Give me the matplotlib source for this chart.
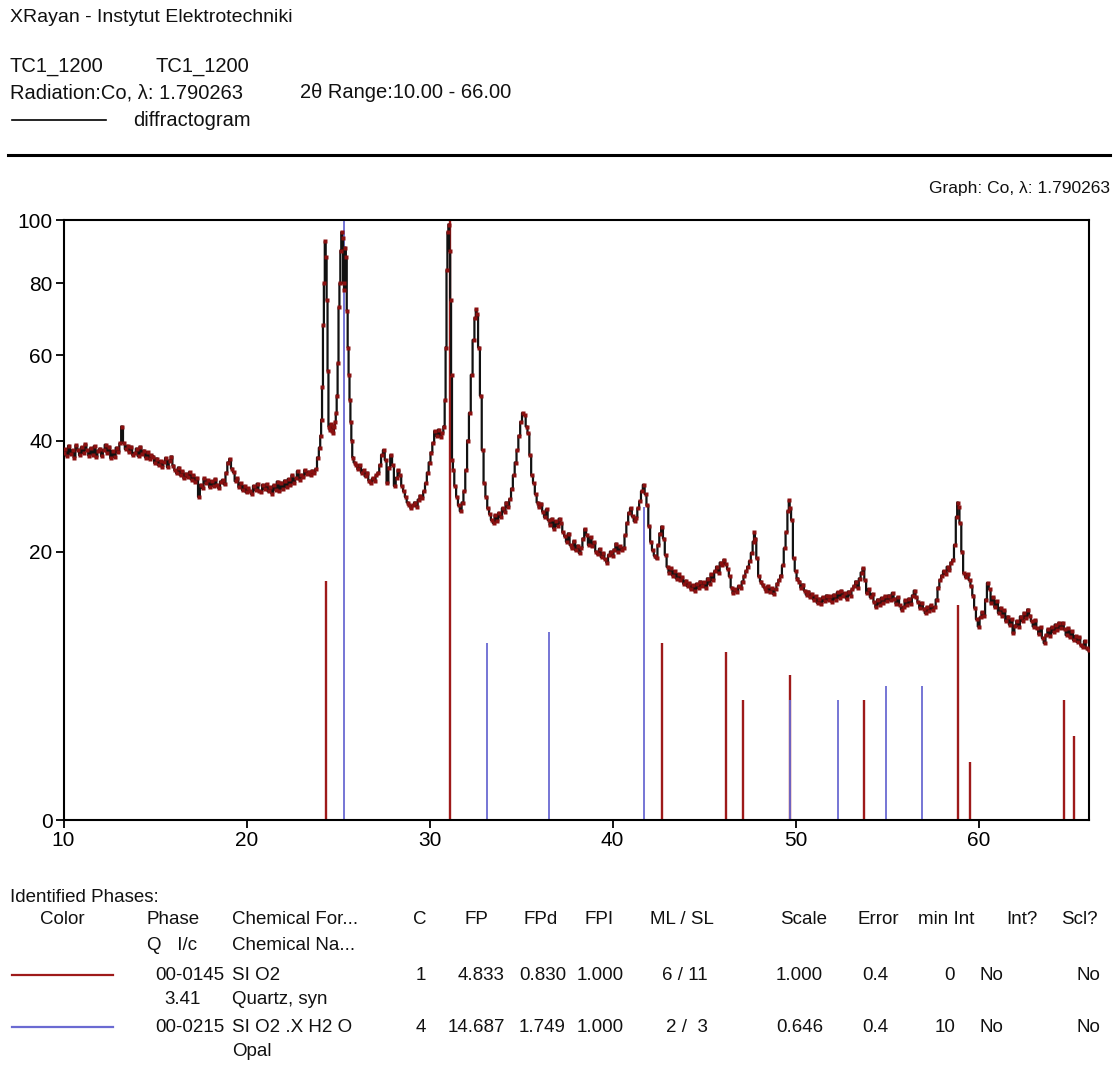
import numpy as np
import matplotlib
matplotlib.use("Agg")
import matplotlib.pyplot as plt

plt.rcParams['font.family'] = ['Liberation Sans', 'DejaVu Sans']

# measured pattern: (2theta, intensity %)
pattern = [
    (10.0, 37.5), (10.1, 38.2), (10.2, 36.8), (10.3, 38.9), (10.4, 37.2), (10.5, 38.0), (10.6, 36.5),
    (10.7, 39.0), (10.8, 38.1), (10.9, 37.0), (11.0, 38.6), (11.1, 37.4), (11.2, 39.2), (11.3, 38.0),
    (11.4, 36.9), (11.5, 38.4), (11.6, 37.1), (11.7, 38.8), (11.8, 36.6), (11.9, 37.9), (12.0, 38.3),
    (12.1, 36.8), (12.2, 38.0), (12.3, 39.1), (12.4, 37.5), (12.5, 38.7), (12.6, 36.4), (12.7, 37.8),
    (12.8, 36.6), (12.9, 38.5), (13.0, 37.6), (13.1, 39.4), (13.2, 43.0), (13.3, 39.5), (13.4, 38.2),
    (13.5, 38.9), (13.6, 37.6), (13.7, 38.7), (13.8, 37.0), (13.9, 37.4), (14.0, 38.3), (14.1, 36.8),
    (14.2, 38.7), (14.3, 37.2), (14.4, 37.9), (14.5, 36.5), (14.6, 37.6), (14.7, 36.2), (14.8, 37.0),
    (14.9, 36.7), (15.0, 35.4), (15.1, 36.3), (15.2, 35.0), (15.3, 35.8), (15.4, 34.7), (15.5, 35.6),
    (15.6, 36.4), (15.7, 34.6), (15.8, 35.9), (15.9, 36.7), (16.0, 34.9), (16.1, 34.0), (16.2, 33.4),
    (16.3, 34.5), (16.4, 33.0), (16.5, 33.8), (16.6, 32.4), (16.7, 33.3), (16.8, 32.7), (16.9, 33.6),
    (17.0, 32.2), (17.1, 33.0), (17.2, 31.8), (17.3, 32.5), (17.4, 29.0), (17.5, 31.2), (17.6, 30.6),
    (17.7, 32.4), (17.8, 31.5), (17.9, 32.1), (18.0, 30.8), (18.1, 31.9), (18.2, 31.0), (18.3, 32.3),
    (18.4, 31.2), (18.5, 30.6), (18.6, 31.8), (18.7, 32.1), (18.8, 31.3), (18.9, 33.5), (19.0, 35.5),
    (19.1, 36.2), (19.2, 34.3), (19.3, 33.6), (19.4, 31.9), (19.5, 32.4), (19.6, 30.8), (19.7, 31.5),
    (19.8, 30.2), (19.9, 31.0), (20.0, 29.8), (20.1, 30.6), (20.2, 30.0), (20.3, 29.5), (20.4, 31.0),
    (20.5, 30.2), (20.6, 31.4), (20.7, 30.1), (20.8, 29.9), (20.9, 31.2), (21.0, 30.4), (21.1, 31.3),
    (21.2, 30.0), (21.3, 30.8), (21.4, 29.6), (21.5, 31.1), (21.6, 30.3), (21.7, 31.8), (21.8, 30.0),
    (21.9, 31.6), (22.0, 30.5), (22.1, 32.0), (22.2, 30.8), (22.3, 32.3), (22.4, 31.1), (22.5, 33.0),
    (22.6, 31.6), (22.7, 32.4), (22.8, 33.8), (22.9, 32.2), (23.0, 33.1), (23.1, 32.6), (23.2, 34.0),
    (23.3, 33.2), (23.4, 33.7), (23.5, 33.0), (23.6, 33.9), (23.7, 33.5), (23.8, 34.2), (23.9, 36.5),
    (24.0, 38.5), (24.05, 41.0), (24.1, 44.5), (24.15, 52.0), (24.2, 68.0), (24.25, 80.0), (24.3, 93.0),
    (24.35, 88.0), (24.4, 75.0), (24.45, 56.0), (24.5, 43.0), (24.55, 42.3), (24.6, 43.5), (24.65, 42.0),
    (24.7, 43.2), (24.75, 41.5), (24.8, 43.0), (24.85, 44.0), (24.9, 46.0), (24.95, 50.0), (25.0, 58.0),
    (25.05, 73.0), (25.1, 80.0), (25.15, 90.0), (25.2, 96.0), (25.25, 94.0), (25.3, 80.0), (25.35, 78.0),
    (25.4, 91.0), (25.45, 88.0), (25.5, 72.0), (25.55, 62.0), (25.6, 55.0), (25.65, 49.0), (25.7, 44.0),
    (25.75, 40.0), (25.8, 36.5), (25.9, 35.5), (26.0, 35.0), (26.1, 34.2), (26.2, 35.0), (26.3, 33.5),
    (26.4, 34.0), (26.5, 32.8), (26.6, 33.5), (26.7, 32.0), (26.8, 31.5), (26.9, 32.4), (27.0, 32.0),
    (27.1, 33.0), (27.2, 33.5), (27.3, 35.0), (27.4, 37.0), (27.5, 38.0), (27.6, 36.0), (27.7, 31.5),
    (27.8, 34.5), (27.9, 37.0), (28.0, 35.0), (28.1, 31.0), (28.2, 32.5), (28.3, 34.0), (28.4, 33.0),
    (28.5, 31.0), (28.6, 30.0), (28.7, 29.0), (28.8, 28.0), (28.9, 27.5), (29.0, 27.0), (29.1, 27.5),
    (29.2, 28.0), (29.3, 27.3), (29.4, 28.5), (29.5, 29.2), (29.6, 28.8), (29.7, 30.0), (29.8, 31.5),
    (29.9, 33.5), (30.0, 35.5), (30.1, 37.5), (30.2, 39.5), (30.3, 42.0), (30.4, 41.0), (30.5, 42.3),
    (30.6, 40.8), (30.7, 41.6), (30.8, 43.0), (30.85, 49.0), (30.9, 62.0), (30.95, 84.0), (31.0, 96.0),
    (31.05, 98.5), (31.1, 90.0), (31.15, 75.0), (31.2, 55.0), (31.25, 36.0), (31.3, 34.0), (31.4, 31.0),
    (31.5, 29.0), (31.6, 27.5), (31.7, 26.5), (31.8, 28.0), (31.9, 30.0), (32.0, 34.0), (32.1, 40.0),
    (32.2, 46.0), (32.3, 55.0), (32.4, 64.0), (32.5, 70.0), (32.55, 72.5), (32.6, 71.0), (32.7, 62.0),
    (32.8, 50.0), (32.9, 38.0), (33.0, 31.5), (33.1, 29.0), (33.2, 27.0), (33.3, 26.0), (33.4, 25.0),
    (33.5, 24.5), (33.6, 25.8), (33.7, 24.8), (33.8, 26.2), (33.9, 25.5), (34.0, 27.0), (34.1, 26.4),
    (34.2, 28.0), (34.3, 27.2), (34.4, 28.6), (34.5, 30.5), (34.6, 33.0), (34.7, 35.5), (34.8, 38.0),
    (34.9, 41.0), (35.0, 44.0), (35.1, 46.0), (35.2, 45.5), (35.3, 43.0), (35.4, 41.5), (35.5, 37.0),
    (35.6, 33.0), (35.7, 31.5), (35.8, 29.5), (35.9, 28.0), (36.0, 27.2), (36.1, 27.8), (36.2, 26.4),
    (36.3, 25.5), (36.4, 26.8), (36.5, 25.0), (36.6, 24.2), (36.7, 25.2), (36.8, 23.6), (36.9, 24.8),
    (37.0, 24.0), (37.1, 25.2), (37.2, 24.5), (37.3, 23.0), (37.4, 22.4), (37.5, 21.5), (37.6, 22.8),
    (37.7, 21.0), (37.8, 20.5), (37.9, 21.6), (38.0, 20.2), (38.1, 20.9), (38.2, 19.8), (38.3, 20.6),
    (38.4, 22.0), (38.5, 23.5), (38.6, 22.6), (38.7, 21.0), (38.8, 22.2), (38.9, 20.8), (39.0, 21.4),
    (39.1, 20.0), (39.2, 19.6), (39.3, 20.4), (39.4, 19.2), (39.5, 19.8), (39.6, 18.9), (39.7, 18.4),
    (39.8, 19.5), (39.9, 20.0), (40.0, 19.4), (40.1, 20.3), (40.2, 21.2), (40.3, 20.0), (40.4, 20.8),
    (40.5, 20.2), (40.6, 20.6), (40.7, 22.5), (40.8, 24.5), (40.9, 26.2), (41.0, 27.0), (41.1, 25.6),
    (41.2, 24.8), (41.3, 25.4), (41.4, 27.0), (41.5, 28.2), (41.6, 30.0), (41.7, 31.2), (41.8, 29.5),
    (41.9, 27.5), (42.0, 24.0), (42.1, 21.5), (42.2, 20.2), (42.3, 19.4), (42.4, 19.0), (42.5, 21.0),
    (42.6, 22.8), (42.7, 23.9), (42.8, 22.0), (42.9, 19.5), (43.0, 17.8), (43.1, 17.0), (43.2, 17.6),
    (43.3, 16.6), (43.4, 17.2), (43.5, 16.2), (43.6, 16.8), (43.7, 16.0), (43.8, 16.4), (43.9, 15.5),
    (44.0, 15.9), (44.1, 15.2), (44.2, 15.6), (44.3, 14.8), (44.4, 15.3), (44.5, 14.6), (44.6, 15.5),
    (44.7, 14.9), (44.8, 15.8), (44.9, 15.2), (45.0, 15.7), (45.1, 15.0), (45.2, 16.2), (45.3, 15.5),
    (45.4, 16.8), (45.5, 16.0), (45.6, 17.2), (45.7, 17.8), (45.8, 17.0), (45.9, 18.4), (46.0, 18.0),
    (46.1, 18.8), (46.2, 18.2), (46.3, 17.5), (46.4, 16.5), (46.5, 15.0), (46.6, 14.3), (46.7, 14.8),
    (46.8, 14.5), (46.9, 15.2), (47.0, 15.0), (47.1, 15.8), (47.2, 16.5), (47.3, 17.2), (47.4, 17.8),
    (47.5, 18.6), (47.6, 19.8), (47.7, 21.5), (47.75, 23.0), (47.8, 22.0), (47.9, 19.0), (48.0, 16.5),
    (48.1, 15.8), (48.2, 15.4), (48.3, 15.0), (48.4, 14.6), (48.5, 15.2), (48.6, 14.4), (48.7, 14.9),
    (48.8, 14.2), (48.9, 14.8), (49.0, 15.5), (49.1, 16.0), (49.2, 16.6), (49.3, 18.0), (49.4, 20.5),
    (49.5, 23.0), (49.6, 26.5), (49.65, 28.4), (49.7, 27.0), (49.8, 25.0), (49.9, 19.0), (50.0, 17.2),
    (50.1, 16.2), (50.2, 15.8), (50.3, 15.0), (50.4, 15.4), (50.5, 14.6), (50.6, 14.1), (50.7, 14.5),
    (50.8, 13.8), (50.9, 14.2), (51.0, 13.5), (51.1, 13.9), (51.2, 13.1), (51.3, 13.6), (51.4, 13.0),
    (51.5, 13.8), (51.6, 13.3), (51.7, 14.0), (51.8, 13.4), (51.9, 13.9), (52.0, 13.2), (52.1, 14.1),
    (52.2, 13.5), (52.3, 14.4), (52.4, 13.7), (52.5, 14.6), (52.6, 13.9), (52.7, 14.3), (52.8, 13.6),
    (52.9, 14.5), (53.0, 14.0), (53.1, 14.8), (53.2, 15.2), (53.3, 15.8), (53.4, 15.0), (53.5, 16.2),
    (53.6, 17.0), (53.7, 17.6), (53.8, 16.0), (53.9, 14.3), (54.0, 14.8), (54.1, 13.8), (54.2, 14.2),
    (54.3, 13.2), (54.4, 12.6), (54.5, 13.5), (54.6, 12.9), (54.7, 13.7), (54.8, 13.1), (54.9, 13.9),
    (55.0, 13.3), (55.1, 14.0), (55.2, 13.4), (55.3, 14.3), (55.4, 13.6), (55.5, 13.0), (55.6, 13.8),
    (55.7, 12.8), (55.8, 12.3), (55.9, 12.6), (56.0, 13.4), (56.1, 12.8), (56.2, 13.6), (56.3, 13.0),
    (56.4, 14.0), (56.5, 14.6), (56.6, 13.8), (56.7, 13.2), (56.8, 12.5), (56.9, 13.1), (57.0, 12.4),
    (57.1, 11.9), (57.2, 12.6), (57.3, 12.1), (57.4, 12.8), (57.5, 12.3), (57.6, 12.6), (57.7, 13.5),
    (57.8, 15.0), (57.9, 16.0), (58.0, 16.6), (58.1, 17.2), (58.2, 16.8), (58.3, 17.8), (58.4, 17.4),
    (58.5, 18.4), (58.6, 18.8), (58.7, 21.0), (58.8, 25.5), (58.85, 28.0), (58.9, 27.2), (59.0, 24.5),
    (59.1, 20.0), (59.2, 16.9), (59.3, 16.4), (59.4, 16.8), (59.5, 16.0), (59.6, 15.2), (59.7, 14.0),
    (59.8, 12.5), (59.9, 11.2), (60.0, 10.4), (60.1, 11.4), (60.2, 12.0), (60.3, 11.6), (60.4, 13.5),
    (60.5, 15.6), (60.6, 14.8), (60.7, 13.1), (60.8, 13.8), (60.9, 12.6), (61.0, 13.3), (61.1, 11.9),
    (61.2, 12.5), (61.3, 11.6), (61.4, 12.2), (61.5, 11.0), (61.6, 11.5), (61.7, 10.6), (61.8, 11.2),
    (61.9, 9.7), (62.0, 10.5), (62.1, 11.0), (62.2, 10.4), (62.3, 11.5), (62.4, 11.0), (62.5, 11.9),
    (62.6, 11.3), (62.7, 12.3), (62.8, 11.6), (62.9, 11.0), (63.0, 10.4), (63.1, 11.1), (63.2, 10.2),
    (63.3, 9.6), (63.4, 10.3), (63.5, 9.2), (63.6, 8.7), (63.7, 9.5), (63.8, 10.1), (63.9, 9.4),
    (64.0, 10.3), (64.1, 9.8), (64.2, 10.6), (64.3, 10.0), (64.4, 10.8), (64.5, 10.2), (64.6, 10.8),
    (64.7, 10.1), (64.8, 9.5), (64.9, 10.2), (65.0, 9.3), (65.1, 9.9), (65.2, 9.0), (65.3, 9.4),
    (65.4, 8.8), (65.5, 9.3), (65.6, 8.5), (65.7, 8.3), (65.8, 8.9), (65.9, 8.2), (66.0, 8.0),
]
two_theta = [p[0] for p in pattern]
intensity = [p[1] for p in pattern]

# reference sticks
quartz_pos = [24.35, 31.12, 42.7, 46.2, 47.15, 49.7, 53.72, 58.87, 59.5, 64.65, 65.2]
quartz_int = [15.9, 100, 8.75, 7.84, 4.0, 5.87, 4.0, 12.9, 0.93, 4.0, 1.96]
opal_pos = [25.33, 33.12, 36.5, 41.72, 49.7, 52.3, 54.94, 56.9]
opal_int = [100, 8.75, 9.77, 27.3, 4.0, 4.0, 4.99, 4.99]

x_ticks = [10, 20, 30, 40, 50, 60]
y_ticks = [0, 20, 40, 60, 80, 100]

table_header = ["Phase", "Chemical For...", "C", "FP", "FPd", "FPI", "ML / SL", "Scale", "Error", "min Int", "Int?", "Scl?"]
quartz_row = ["00-0145", "SI O2", "1", "4.833", "0.830", "1.000", "6 / 11", "1.000", "0.4", "0", "No", "No"]
opal_row = ["00-0215", "SI O2 .X H2 O", "4", "14.687", "1.749", "1.000", "2 /  3", "0.646", "0.4", "10", "No", "No"]

RED = '#9e1a1a'
BLUE = '#6a6ad2'
W, H = 1118, 1070

fig = plt.figure(figsize=(W / 100, H / 100), dpi=100)


def txt(x, y, s, ha='left', size=13.5):
    fig.text(x / W, 1 - y / H, s, ha=ha, va='center', fontsize=size, color='#111111')


def hline(x0, x1, y, color='black', lw=1.2):
    fig.add_artist(plt.Line2D([x0 / W, x1 / W], [1 - y / H, 1 - y / H], color=color, lw=lw))


# header block
txt(10, 18, "XRayan - Instytut Elektrotechniki", size=14)
txt(10, 66, "TC1_1200", size=14.5)
txt(155, 66, "TC1_1200", size=14.5)
txt(10, 93, "Radiation:Co, λ: 1.790263", size=14.5)
txt(300, 93, "2θ Range:10.00 - 66.00", size=14.5)
hline(12, 106, 120, lw=1.2)
txt(133, 121, "diffractogram", size=14.5)
hline(8, 1110, 155, lw=2.2)
txt(1110, 188, "Graph: Co, λ: 1.790263", ha='right', size=12.5)

ax = fig.add_axes([63.5 / W, 1 - 820 / H, 1025 / W, 600 / H])
ax.set_yscale('function', functions=(lambda v: np.sqrt(np.maximum(v, 0)), lambda v: v ** 2))

ax.vlines(quartz_pos, 0, quartz_int, color=RED, lw=1.7, zorder=1)
ax.vlines(opal_pos, 0, opal_int, color=BLUE, lw=1.3, zorder=2)
ax.plot(two_theta, intensity, drawstyle='steps-mid', color='#111111', lw=1.6, zorder=3)
ax.plot(two_theta, intensity, 's', ms=2.6, color='#8a1010', mec='none', zorder=4)

ax.set_xlim(10, 66)
ax.set_ylim(0, 100)
ax.set_xticks(x_ticks)
ax.set_yticks(y_ticks)
ax.tick_params(direction='out', length=6, width=1.3, labelsize=15, colors='black', pad=2)
ax.tick_params(top=False, right=False)
for sp in ax.spines.values():
    sp.set_linewidth(1.5)

# identified phases table
txt(10, 897, "Identified Phases:")
txt(62, 920, "Color", ha='center')
col_x = [173, 232, 420, 476, 541, 599, 682, 804, 878, 946, 1022, 1079]
col_ha = ['center', 'left', 'center', 'center', 'center', 'center', 'center', 'center', 'center', 'center', 'center', 'center']
for x, s, ha in zip(col_x, table_header, col_ha):
    txt(x, 920, s, ha=ha)
txt(147, 946, "Q   I/c")
txt(232, 946, "Chemical Na...")

row_x = [224, 232, 426, 505, 566, 624, 708, 823, 888, 955, 1003, 1100]
row_ha = ['right', 'left', 'right', 'right', 'right', 'right', 'right', 'right', 'right', 'right', 'right', 'right']
for y, row, col in [(975, quartz_row, RED), (1027, opal_row, BLUE)]:
    hline(12, 113, y, color=col, lw=1.6)
    for x, s, ha in zip(row_x, row, row_ha):
        txt(x, y, s, ha=ha)
txt(201, 1000, "3.41", ha='right')
txt(232, 1000, "Quartz, syn")
txt(232, 1052, "Opal")

fig.savefig("out.png", dpi=100, facecolor='white')
